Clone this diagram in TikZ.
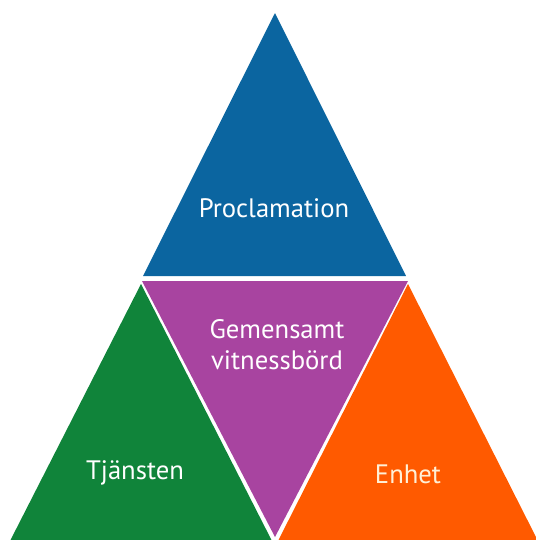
\documentclass[tikz,border=0pt]{standalone}
\usepackage{fontspec}
\setmainfont{PT Sans}
\definecolor{pblue}{RGB}{11,101,160}
\definecolor{ppurple}{RGB}{168,68,160}
\definecolor{pgreen}{RGB}{16,132,58}
\definecolor{porange}{RGB}{255,90,0}
\begin{document}
\begin{tikzpicture}[x=0.75pt,y=-0.75pt,
  lbl/.style={text=white,anchor=base,font=\fontsize{20}{24}\selectfont,align=center,inner sep=0pt}]
\useasboundingbox (0,0) rectangle (536,540);
\begin{scope}
\clip (0,0) rectangle (536,540);
\fill[pblue] (275,13) -- (143,276) -- (406,276) -- cycle;
\fill[ppurple] (142,281) -- (408,281) -- (275,537) -- cycle;
\fill[pgreen] (141,284) -- (10,541) -- (272,541) -- cycle;
\fill[porange] (408,284) -- (278,541) -- (538,541) -- cycle;
\end{scope}
\node[lbl] (proc) at (274,217) {Proclamation};
\node[lbl] (gem1) at (277,338) {Gemensamt};
\node[lbl] (gem2) at (277,369) {vitnessbörd};
\node[lbl] (tja) at (135,479) {Tjänsten};
\node[lbl,text={rgb,255:red,255;green,240;blue,215}] (enh) at (408,483) {Enhet};
\end{tikzpicture}
\end{document}
